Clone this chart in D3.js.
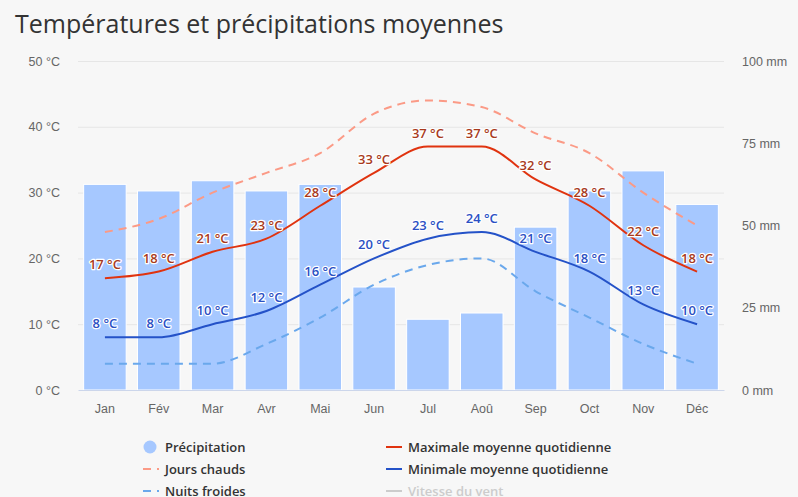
<!DOCTYPE html>
<html>
<head>
<meta charset="utf-8">
<script src="https://d3js.org/d3.v7.min.js"></script>
<style>
  body { margin: 0; background: #f7f7f7; }
  svg { display: block; font-family: "Open Sans", "Noto Sans", sans-serif; }
</style>
</head>
<body>
<svg id="chart" width="798" height="497"></svg>
<script>
// data
var months = ["Jan", "Fév", "Mar", "Avr", "Mai", "Jun", "Jul", "Aoû", "Sep", "Oct", "Nov", "Déc"];
var precipitation = [62.5, 60.5, 63.6, 60.5, 62.5, 31.3, 21.5, 23.4, 49.5, 60.5, 66.6, 56.4];
var maxTemp = [17, 18, 21, 23, 28, 33, 37, 37, 32, 28, 22, 18];
var minTemp = [8, 8, 10, 12, 16, 20, 23, 24, 21, 18, 13, 10];
var hotDays = [24, 26, 30, 33, 36, 42, 44, 43, 39, 36, 30, 25];
var coldNights = [4, 4, 4, 7, 11, 16, 19, 20, 15, 11, 7, 4];
var tempTicks = [0, 10, 20, 30, 40, 50];
var rainTicks = [0, 25, 50, 75, 100];

var svg = d3.select("#chart");

svg.append("rect").attr("width", 798).attr("height", 497).attr("fill", "#f7f7f7");

// title
svg.append("text")
  .attr("x", 15).attr("y", 33)
  .attr("font-size", "25px")
  .attr("fill", "#333")
  .text("Températures et précipitations moyennes");

// scales
var x = d3.scaleBand().domain(months).range([78, 724]);
var y = d3.scaleLinear().domain([0, 50]).range([390, 61]);
var yr = d3.scaleLinear().domain([0, 100]).range([390, 61]);

// grid
svg.append("g").selectAll("line")
  .data(tempTicks.slice(1))
  .enter().append("line")
  .attr("x1", 78).attr("x2", 724)
  .attr("y1", function(d) { return y(d) + 0.5 })
  .attr("y2", function(d) { return y(d) + 0.5 })
  .attr("stroke", "#e6e6e6");

// left axis
var yAxis = svg.append("g")
  .attr("transform", "translate(60,0)")
  .call(d3.axisLeft(y).tickValues(tempTicks).tickSize(0).tickPadding(0).tickFormat(function(d) { return d + " °C" }));
yAxis.select(".domain").remove();
yAxis.selectAll("text").attr("fill", "#666").attr("font-size", "12.5px").attr("font-family", null);

// right axis
var yrAxis = svg.append("g")
  .attr("transform", "translate(742,0)")
  .call(d3.axisRight(yr).tickValues(rainTicks).tickSize(0).tickPadding(0).tickFormat(function(d) { return d + " mm" }));
yrAxis.select(".domain").remove();
yrAxis.selectAll("text").attr("fill", "#666").attr("font-size", "12.5px").attr("font-family", null);

// bars
var barW = x.bandwidth() * 0.79;
svg.append("g").selectAll("rect")
  .data(precipitation)
  .enter().append("rect")
  .attr("x", function(d, i) { return x(months[i]) + (x.bandwidth() - barW) / 2 })
  .attr("y", function(d) { return yr(d) })
  .attr("width", barW)
  .attr("height", function(d) { return 390 - yr(d) })
  .attr("fill", "#a6c8ff")
  .attr("stroke", "#ffffff")
  .attr("stroke-width", 1);

// x axis
var xAxis = svg.append("g")
  .attr("transform", "translate(0,390)")
  .call(d3.axisBottom(x).tickSize(0).tickPadding(14));
xAxis.select(".domain").attr("stroke", "#ccd6eb");
xAxis.selectAll("text").attr("fill", "#666").attr("font-size", "12.5px").attr("font-family", null);

function cx(i) { return x(months[i]) + x.bandwidth() / 2 }

var line = d3.line()
  .x(function(d, i) { return cx(i) })
  .y(function(d) { return y(d) })
  .curve(d3.curveMonotoneX);

// lines
svg.append("path").datum(hotDays)
  .attr("fill", "none").attr("stroke", "#fb9a86").attr("stroke-width", 2)
  .attr("stroke-dasharray", "8,6").attr("d", line);
svg.append("path").datum(coldNights)
  .attr("fill", "none").attr("stroke", "#6aa8ec").attr("stroke-width", 2)
  .attr("stroke-dasharray", "8,6").attr("d", line);
svg.append("path").datum(maxTemp)
  .attr("fill", "none").attr("stroke", "#e0330f").attr("stroke-width", 2).attr("d", line);
svg.append("path").datum(minTemp)
  .attr("fill", "none").attr("stroke", "#2452c8").attr("stroke-width", 2).attr("d", line);

// data labels
function labels(data, color) {
  svg.append("g").selectAll("text")
    .data(data)
    .enter().append("text")
    .attr("x", function(d, i) { return cx(i) })
    .attr("y", function(d) { return y(d) - 9 })
    .attr("text-anchor", "middle")
    .attr("font-size", "13px")
    .attr("font-weight", 600)
    .attr("fill", color)
    .attr("stroke", "#ffffff")
    .attr("stroke-width", 2.5)
    .attr("stroke-linejoin", "round")
    .attr("paint-order", "stroke")
    .text(function(d) { return d + " °C" });
}
labels(maxTemp, "#a83a1c");
labels(minTemp, "#2b50c4");

// legend
var legendItems = [
  { name: "Précipitation", type: "circle", color: "#a6c8ff", col: 0, row: 0 },
  { name: "Jours chauds", type: "dash", color: "#fb9a86", col: 0, row: 1 },
  { name: "Nuits froides", type: "dash", color: "#6aa8ec", col: 0, row: 2 },
  { name: "Maximale moyenne quotidienne", type: "line", color: "#e0330f", col: 1, row: 0 },
  { name: "Minimale moyenne quotidienne", type: "line", color: "#2452c8", col: 1, row: 1 },
  { name: "Vitesse du vent", type: "line", color: "#cccccc", col: 1, row: 2, hidden: true }
];
var colX = [143, 386];
var legend = svg.append("g");
legendItems.forEach(function(it) {
  var lx = colX[it.col], ly = 447 + it.row * 22;
  if (it.type == "circle") {
    legend.append("circle").attr("cx", lx + 7).attr("cy", ly).attr("r", 6.5).attr("fill", it.color);
  } else {
    legend.append("line")
      .attr("x1", lx).attr("x2", lx + 16).attr("y1", ly).attr("y2", ly)
      .attr("stroke", it.color).attr("stroke-width", 2)
      .attr("stroke-dasharray", it.type == "dash" ? "8,6" : null);
  }
  legend.append("text")
    .attr("x", lx + 22).attr("y", ly + 5)
    .attr("font-size", "13px").attr("font-weight", 600)
    .attr("fill", it.hidden ? "#cccccc" : "#333333")
    .text(it.name);
});
</script>
</body>
</html>
